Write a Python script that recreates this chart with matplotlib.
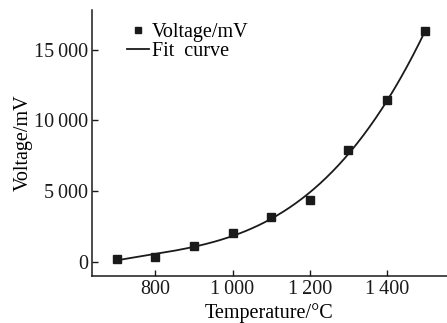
import numpy as np
import matplotlib
matplotlib.use("Agg")
import matplotlib.pyplot as plt
from matplotlib.ticker import FuncFormatter

temperature = [700, 800, 900, 1000, 1100, 1200, 1300, 1400, 1500]
voltage = [200, 330, 1150, 2050, 3150, 4380, 7900, 11420, 16300]
x_ticks = [800, 1000, 1200, 1400]
y_ticks = [0, 5000, 10000, 15000]

plt.rcParams['font.family'] = ['Liberation Serif', 'DejaVu Serif']

fig = plt.figure(figsize=(4.47, 3.23), dpi=100)
ax = fig.add_axes([0.206, 0.1455, 0.794, 0.8235])

coef = np.polyfit(temperature, voltage, 3)
xs = np.linspace(700, 1500, 200)
ax.plot(xs, np.polyval(coef, xs), color='#1a1a1a', lw=1.3, label='Fit  curve')
ax.plot(temperature, voltage, 's', color='#1a1a1a', ms=6, ls='none', label='Voltage/mV')

ax.set_xlim(636, 1556)
ax.set_ylim(-990, 17800)
ax.set_xticks(x_ticks)
ax.set_yticks(y_ticks)

def fmt(v, pos):
    v = int(round(v))
    if v >= 1000:
        return f"{v // 1000}\u2009{v % 1000:03d}"
    return str(v)

ax.xaxis.set_major_formatter(FuncFormatter(fmt))
ax.yaxis.set_major_formatter(FuncFormatter(fmt))
ax.tick_params(direction='in', length=4.5, width=1, labelsize=14.5, colors='#1a1a1a', pad=3)
for s in ['top', 'right']:
    ax.spines[s].set_visible(False)
for s in ['left', 'bottom']:
    ax.spines[s].set_linewidth(1.1)
    ax.spines[s].set_color('#1a1a1a')

ax.set_xlabel('Temperature/°C', fontsize=14.5, labelpad=2.5)
ax.set_ylabel('Voltage/mV', fontsize=14.5, labelpad=1)

h, l = ax.get_legend_handles_labels()
ax.legend([h[1], h[0]], [l[1], l[0]], loc='upper left', bbox_to_anchor=(0.058, 1.004),
          frameon=False, fontsize=14.5, handlelength=1.1, handletextpad=0.15,
          labelspacing=0.0, markerscale=0.7, borderaxespad=0.3)

fig.savefig('out.png', dpi=100)
